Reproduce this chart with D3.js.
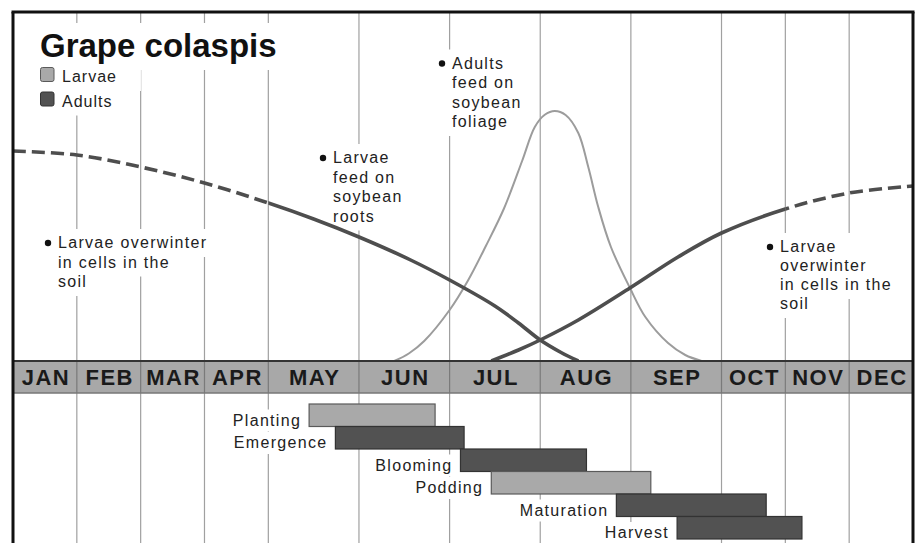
<!DOCTYPE html>
<html>
<head>
<meta charset="utf-8">
<script src="https://cdn.jsdelivr.net/npm/d3@7"></script>
<style>
  html, body { margin: 0; padding: 0; background: #fff; }
  svg { display: block; font-family: "Liberation Sans", Arial, Helvetica, sans-serif; }
</style>
</head>
<body>
<svg id="chart" width="922" height="543"></svg>
<script>
// ---- data ---------------------------------------------------------------
const months = ["JAN", "FEB", "MAR", "APR", "MAY", "JUN", "JUL", "AUG", "SEP", "OCT", "NOV", "DEC"];

// Larvae of the spring generation (month position 0..12, relative level 0..100)
const larvaeSpringMonth = [0, 1, 2, 3, 4, 4.5, 5, 5.57, 6, 6.5, 6.76, 7, 7.23, 7.42];
const larvaeSpringLevel = [84, 82.4, 77.6, 71.2, 63.2, 56.8, 49.6, 40.4, 32.4, 22, 15.2, 8.4, 3.4, 0];

// Larvae of the new generation going into winter
const larvaeFallMonth = [6.46, 6.76, 7, 7.42, 7.99, 8.52, 9, 10, 11, 12];
const larvaeFallLevel = [0, 4.4, 8.4, 16.4, 29.2, 41.6, 51.2, 60.8, 67.2, 70];

// Adult beetles
const adultsMonth = [5.39, 5.55, 5.72, 6, 6.2, 6.4, 6.6, 6.8, 6.94, 7.05, 7.16, 7.28, 7.42, 7.53, 7.64, 7.78, 7.99, 8.16, 8.41, 8.6, 8.78];
const adultsLevel = [0, 3, 8, 20.4, 32, 46, 61, 80, 93.6, 98.5, 100, 98.4, 91.2, 77.6, 61.6, 45.6, 29.2, 17.6, 7.2, 2.4, 0];

// Which parts of the larvae curves are drawn dashed (overwintering)
const dashedBefore = 4;   // spring curve dashed up to May 1
const dashedAfter = 10;   // fall curve dashed from Nov 1

// Soybean growth stages
const stages = ["Planting", "Emergence", "Blooming", "Podding", "Maturation", "Harvest"];
const stageStart = [4.45, 4.74, 6.12, 6.46, 7.84, 8.51];
const stageEnd = [5.84, 6.16, 7.51, 8.22, 9.70, 10.26];
const stageTone = ["light", "dark", "dark", "light", "dark", "dark"];

const legendLabels = ["Larvae", "Adults"];
const legendTone = ["light", "dark"];

const notes = [
  ["Larvae overwinter", "in cells in the", "soil"],
  ["Larvae", "feed on", "soybean", "roots"],
  ["Adults", "feed on", "soybean", "foliage"],
  ["Larvae", "overwinter", "in cells in the", "soil"]
];

// ---- layout -------------------------------------------------------------
const W = 922, H = 543;
const frame = { left: 13, right: 913, top: 12 };
const band = { top: 361, bottom: 393 };
const peakY = 111;
const ganttTop = 404, ganttBottom = 539;
const wide = new Set(["MAY", "JUN", "JUL", "AUG", "SEP"]);
const noteAnchors = [
  { x: 58, y: 248, lh: 19.5 },
  { x: 333, y: 163, lh: 19.5 },
  { x: 452, y: 68.5, lh: 19.5 },
  { x: 780, y: 252, lh: 19 }
];
const tones = { light: "#a9a9a9", dark: "#525252" };
const toneStroke = { light: "#5a5a5a", dark: "#333" };

// ---- scales -------------------------------------------------------------
const weights = months.map(m => wide.has(m) ? 1.42 : 1);
const cum = [0];
weights.forEach((w, i) => cum.push(cum[i] + w));
const unit = (frame.right - frame.left) / cum[cum.length - 1];
const x = d3.scaleLinear()
  .domain(d3.range(months.length + 1))
  .range(cum.map(c => frame.left + c * unit));
const y = d3.scaleLinear().domain([0, 100]).range([band.top, peakY]);
const row = d3.scaleBand().domain(stages).range([ganttTop, ganttBottom]).padding(0);

const svg = d3.select("#chart");
svg.append("rect").attr("width", W).attr("height", H).attr("fill", "#fff");

// ---- gridlines ----------------------------------------------------------
const grid = svg.append("g");
grid.selectAll("line")
  .data(d3.range(1, months.length))
  .join("line")
  .attr("x1", d => x(d)).attr("x2", d => x(d))
  .attr("y1", frame.top).attr("y2", H)
  .attr("stroke", "#a0a0a0").attr("stroke-width", 1.2);

// layers: knock-out boxes behind text sit above the grid
const knock = svg.append("g");
const marks = svg.append("g");
const texts = svg.append("g");

function knockOut(sel, padX = 4, padT = 3, padB = 4) {
  sel.each(function () {
    const b = this.getBBox();
    knock.append("rect")
      .attr("x", b.x - padX).attr("y", b.y - padT)
      .attr("width", b.width + 2 * padX).attr("height", b.height + padT + padB)
      .attr("fill", "#fff");
  });
}

// ---- title and legend ---------------------------------------------------
const title = texts.append("text")
  .attr("x", 40).attr("y", 57)
  .attr("font-size", 33).attr("font-weight", "bold").attr("fill", "#111")
  .text("Grape colaspis");
knockOut(title, 4, 4, 6);

legendLabels.forEach((lab, i) => {
  const ly = 82 + i * 24.5;
  texts.append("rect")
    .attr("x", 40.5).attr("y", ly - 14.5).attr("width", 13.5).attr("height", 14)
    .attr("rx", 2)
    .attr("fill", tones[legendTone[i]]).attr("stroke", toneStroke[legendTone[i]]).attr("stroke-width", 1);
  const t = texts.append("text")
    .attr("x", 62).attr("y", ly)
    .attr("font-size", 16).attr("letter-spacing", 1).attr("fill", "#222")
    .text(lab);
  knockOut(t, 24, 4, 6);
});

// ---- notes --------------------------------------------------------------
notes.forEach((lines, i) => {
  const a = noteAnchors[i];
  texts.append("circle")
    .attr("cx", a.x - 10).attr("cy", a.y - 5).attr("r", 3.2).attr("fill", "#111");
  lines.forEach((ln, j) => {
    const t = texts.append("text")
      .attr("x", a.x).attr("y", a.y + j * a.lh)
      .attr("font-size", 16).attr("letter-spacing", 1.3).attr("fill", "#222")
      .text(ln);
    knockOut(t, j === 0 ? 16 : 4, 5, 6);
  });
});

// ---- month band ---------------------------------------------------------
const bandG = svg.append("g");
bandG.append("rect")
  .attr("x", frame.left).attr("y", band.top)
  .attr("width", frame.right - frame.left).attr("height", band.bottom - band.top)
  .attr("fill", "#a8a8a8");
bandG.selectAll("line.sep")
  .data(d3.range(1, months.length))
  .join("line").attr("class", "sep")
  .attr("x1", d => x(d)).attr("x2", d => x(d))
  .attr("y1", band.top).attr("y2", band.bottom)
  .attr("stroke", "#7a7a7a").attr("stroke-width", 1.2);
bandG.append("line")
  .attr("x1", frame.left).attr("x2", frame.right)
  .attr("y1", band.top).attr("y2", band.top)
  .attr("stroke", "#333").attr("stroke-width", 2.2);
bandG.append("line")
  .attr("x1", frame.left).attr("x2", frame.right)
  .attr("y1", band.bottom).attr("y2", band.bottom)
  .attr("stroke", "#777").attr("stroke-width", 1.4);
bandG.selectAll("text")
  .data(months)
  .join("text")
  .attr("x", (d, i) => (x(i) + x(i + 1)) / 2 + 1)
  .attr("y", 385)
  .attr("text-anchor", "middle")
  .attr("font-size", 22).attr("font-weight", "bold").attr("letter-spacing", 1.5)
  .attr("fill", "#1a1a1a")
  .text(d => d);

// ---- curves -------------------------------------------------------------
const defs = svg.append("defs");
function clip(id, x0, x1) {
  defs.append("clipPath").attr("id", id)
    .append("rect").attr("x", x0).attr("y", 0).attr("width", x1 - x0).attr("height", band.top + 1);
}
clip("c-spring-dash", 0, x(dashedBefore));
clip("c-spring-solid", x(dashedBefore), W);
clip("c-fall-solid", 0, x(dashedAfter));
clip("c-fall-dash", x(dashedAfter), W);

const line = d3.line().x(d => x(d[0])).y(d => y(d[1])).curve(d3.curveCatmullRom.alpha(0.5));
const spring = d3.zip(larvaeSpringMonth, larvaeSpringLevel);
const fall = d3.zip(larvaeFallMonth, larvaeFallLevel);
const adults = d3.zip(adultsMonth, adultsLevel);

marks.append("path").attr("d", line(adults))
  .attr("fill", "none").attr("stroke", "#9c9c9c").attr("stroke-width", 2);

function larvaePath(pts, clipId, dashed) {
  marks.append("path").attr("d", line(pts))
    .attr("clip-path", `url(#${clipId})`)
    .attr("fill", "none").attr("stroke", "#4e4e4e").attr("stroke-width", 3.6)
    .attr("stroke-dasharray", dashed ? "13 6" : null);
}
larvaePath(spring, "c-spring-dash", true);
larvaePath(spring, "c-spring-solid", false);
larvaePath(fall, "c-fall-solid", false);
larvaePath(fall, "c-fall-dash", true);

// ---- soybean stages -----------------------------------------------------
const gantt = svg.append("g");
stages.forEach((s, i) => {
  gantt.append("rect")
    .attr("x", x(stageStart[i])).attr("y", row(s))
    .attr("width", x(stageEnd[i]) - x(stageStart[i])).attr("height", row.bandwidth())
    .attr("fill", tones[stageTone[i]])
    .attr("stroke", toneStroke[stageTone[i]]).attr("stroke-width", 1.2);
  const t = gantt.append("text")
    .attr("x", x(stageStart[i]) - 8).attr("y", row(s) + row.bandwidth() - 1)
    .attr("text-anchor", "end")
    .attr("font-size", 16).attr("letter-spacing", 1.3).attr("fill", "#222")
    .text(s);
  knockOut(t, 3, 2, 3);
});

// ---- frame --------------------------------------------------------------
const fr = svg.append("g").attr("stroke", "#111").attr("stroke-width", 3);
fr.append("line").attr("x1", frame.left - 1.5).attr("x2", frame.right + 1.5)
  .attr("y1", frame.top).attr("y2", frame.top);
fr.append("line").attr("x1", frame.left).attr("x2", frame.left)
  .attr("y1", frame.top).attr("y2", H);
fr.append("line").attr("x1", frame.right).attr("x2", frame.right)
  .attr("y1", frame.top).attr("y2", H);
</script>
</body>
</html>
